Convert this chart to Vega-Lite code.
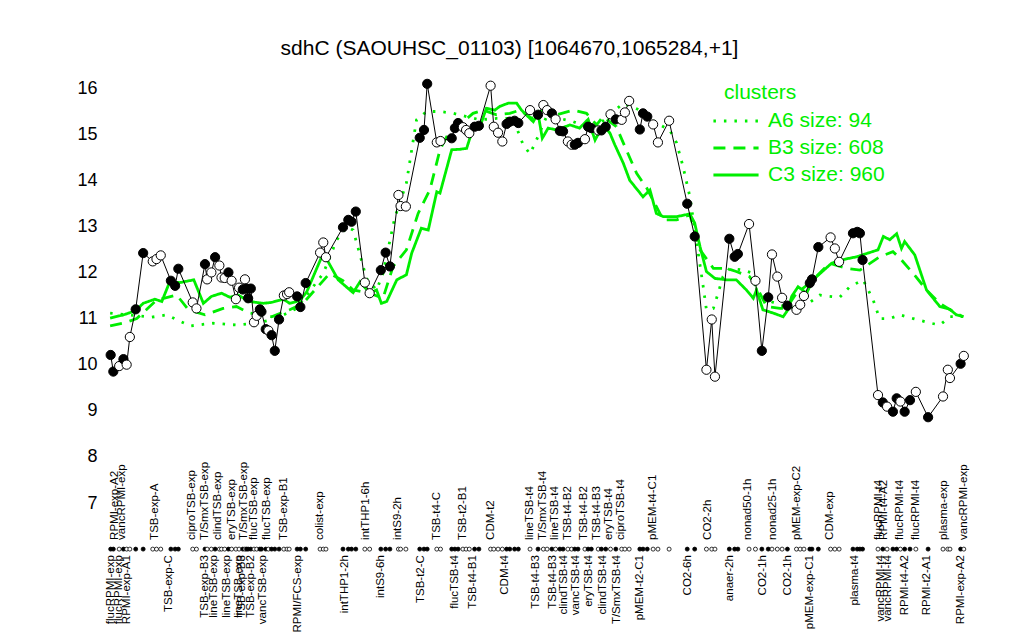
{
  "$schema": "https://vega.github.io/schema/vega-lite/v6.json",
  "width": 875,
  "height": 415,
  "autosize": {"type": "none"},
  "padding": {"left": 100, "top": 88, "right": 49, "bottom": 137},
  "background": "white",
  "title": {"text": "sdhC (SAOUHSC_01103) [1064670,1065284,+1]", "fontSize": 21, "fontWeight": "normal", "font": "Liberation Sans", "color": "black", "anchor": "middle", "frame": "group", "dx": -28, "offset": 18},
  "config": {"view": {"stroke": null}, "font": "Liberation Sans"},
  "datasets": {
    "pts": [
      {"r":1.0,"v":10.21,"t":"f"},{"r":1.5,"v":9.85,"t":"f"},{"r":2.6,"v":9.97,"t":"o"},{"r":3.4,"v":10.12,"t":"f"},{"r":4.0,"v":10.0,"t":"o"},{"r":4.6,"v":10.6,"t":"o"},{"r":5.7,"v":11.2,"t":"f"},{"r":7.1,"v":12.42,"t":"f"},{"r":8.9,"v":12.24,"t":"o"},{"r":9.6,"v":12.29,"t":"o"},{"r":10.4,"v":12.37,"t":"o"},{"r":12.3,"v":11.82,"t":"f"},{"r":13.1,"v":11.71,"t":"f"},{"r":13.7,"v":12.08,"t":"f"},{"r":16.4,"v":11.35,"t":"o"},{"r":17.1,"v":11.22,"t":"o"},{"r":18.7,"v":12.18,"t":"f"},{"r":19.1,"v":11.85,"t":"o"},{"r":19.9,"v":12.0,"t":"o"},{"r":20.6,"v":12.33,"t":"f"},{"r":21.4,"v":12.15,"t":"o"},{"r":21.8,"v":11.89,"t":"o"},{"r":22.4,"v":11.88,"t":"o"},{"r":23.1,"v":12.0,"t":"f"},{"r":23.7,"v":11.82,"t":"o"},{"r":24.5,"v":11.42,"t":"o"},{"r":25.1,"v":11.67,"t":"o"},{"r":25.8,"v":11.63,"t":"f"},{"r":26.2,"v":11.85,"t":"o"},{"r":26.5,"v":11.65,"t":"f"},{"r":26.8,"v":11.44,"t":"f"},{"r":27.3,"v":11.65,"t":"f"},{"r":27.9,"v":10.92,"t":"o"},{"r":28.4,"v":11.06,"t":"o"},{"r":29.0,"v":11.2,"t":"f"},{"r":29.3,"v":11.15,"t":"f"},{"r":30.1,"v":10.77,"t":"f"},{"r":30.6,"v":10.74,"t":"o"},{"r":31.2,"v":10.64,"t":"f"},{"r":31.8,"v":10.3,"t":"f"},{"r":32.6,"v":10.98,"t":"f"},{"r":33.5,"v":11.5,"t":"o"},{"r":34.1,"v":11.53,"t":"o"},{"r":34.5,"v":11.57,"t":"o"},{"r":36.0,"v":11.48,"t":"f"},{"r":36.6,"v":11.25,"t":"f"},{"r":37.6,"v":11.77,"t":"f"},{"r":40.3,"v":12.43,"t":"o"},{"r":40.9,"v":12.65,"t":"o"},{"r":41.4,"v":12.33,"t":"o"},{"r":44.6,"v":12.98,"t":"f"},{"r":45.6,"v":13.14,"t":"f"},{"r":46.2,"v":13.1,"t":"f"},{"r":47.0,"v":13.32,"t":"f"},{"r":48.7,"v":11.78,"t":"o"},{"r":49.6,"v":11.55,"t":"o"},{"r":51.7,"v":12.05,"t":"f"},{"r":52.6,"v":12.43,"t":"f"},{"r":53.4,"v":12.13,"t":"f"},{"r":55.0,"v":13.68,"t":"o"},{"r":55.4,"v":13.44,"t":"o"},{"r":56.4,"v":13.43,"t":"o"},{"r":59.0,"v":14.92,"t":"f"},{"r":59.8,"v":15.09,"t":"f"},{"r":60.4,"v":16.09,"t":"f"},{"r":62.2,"v":14.82,"t":"o"},{"r":62.9,"v":14.85,"t":"o"},{"r":65.0,"v":14.91,"t":"f"},{"r":65.6,"v":15.13,"t":"f"},{"r":66.2,"v":15.24,"t":"f"},{"r":67.1,"v":15.15,"t":"o"},{"r":67.7,"v":15.09,"t":"o"},{"r":68.3,"v":15.02,"t":"o"},{"r":69.3,"v":15.16,"t":"f"},{"r":70.1,"v":15.18,"t":"f"},{"r":72.3,"v":16.05,"t":"o"},{"r":72.9,"v":15.16,"t":"o"},{"r":73.7,"v":15.03,"t":"o"},{"r":74.5,"v":14.84,"t":"o"},{"r":75.3,"v":15.22,"t":"f"},{"r":75.9,"v":15.27,"t":"f"},{"r":76.8,"v":15.29,"t":"f"},{"r":77.5,"v":15.24,"t":"f"},{"r":79.7,"v":15.52,"t":"o"},{"r":81.2,"v":15.42,"t":"f"},{"r":82.2,"v":15.63,"t":"o"},{"r":82.9,"v":15.52,"t":"o"},{"r":83.8,"v":15.45,"t":"f"},{"r":84.5,"v":15.32,"t":"o"},{"r":85.3,"v":15.07,"t":"f"},{"r":85.9,"v":15.06,"t":"f"},{"r":86.8,"v":14.84,"t":"o"},{"r":87.5,"v":14.77,"t":"o"},{"r":88.1,"v":14.77,"t":"f"},{"r":88.7,"v":14.81,"t":"f"},{"r":90.0,"v":14.89,"t":"o"},{"r":90.6,"v":15.16,"t":"f"},{"r":91.2,"v":15.13,"t":"f"},{"r":92.5,"v":15.08,"t":"o"},{"r":93.1,"v":15.08,"t":"f"},{"r":93.9,"v":15.16,"t":"f"},{"r":94.8,"v":15.43,"t":"o"},{"r":95.8,"v":15.32,"t":"f"},{"r":96.9,"v":15.31,"t":"o"},{"r":97.5,"v":15.47,"t":"o"},{"r":98.3,"v":15.72,"t":"o"},{"r":100.3,"v":15.1,"t":"f"},{"r":100.9,"v":15.45,"t":"f"},{"r":101.7,"v":15.38,"t":"f"},{"r":102.8,"v":15.21,"t":"o"},{"r":103.7,"v":14.82,"t":"o"},{"r":105.8,"v":15.29,"t":"o"},{"r":109.2,"v":13.49,"t":"f"},{"r":110.6,"v":12.78,"t":"f"},{"r":112.8,"v":9.89,"t":"o"},{"r":113.8,"v":10.98,"t":"o"},{"r":114.4,"v":9.74,"t":"o"},{"r":117.1,"v":12.73,"t":"f"},{"r":118.1,"v":12.34,"t":"f"},{"r":118.7,"v":12.4,"t":"f"},{"r":120.8,"v":13.05,"t":"o"},{"r":122.0,"v":11.82,"t":"o"},{"r":123.2,"v":10.3,"t":"f"},{"r":124.4,"v":11.46,"t":"f"},{"r":125.1,"v":12.39,"t":"o"},{"r":126.1,"v":11.91,"t":"o"},{"r":127.0,"v":11.45,"t":"o"},{"r":128.0,"v":11.28,"t":"f"},{"r":129.7,"v":11.19,"t":"o"},{"r":130.4,"v":11.3,"t":"o"},{"r":131.1,"v":11.49,"t":"o"},{"r":132.2,"v":11.77,"t":"f"},{"r":132.6,"v":11.85,"t":"f"},{"r":133.8,"v":12.55,"t":"f"},{"r":136.1,"v":12.76,"t":"o"},{"r":136.9,"v":12.52,"t":"o"},{"r":137.7,"v":12.23,"t":"o"},{"r":140.3,"v":12.85,"t":"f"},{"r":141.1,"v":12.88,"t":"f"},{"r":141.6,"v":12.85,"t":"f"},{"r":142.1,"v":12.27,"t":"f"},{"r":145.0,"v":9.34,"t":"o"},{"r":145.9,"v":9.18,"t":"f"},{"r":146.7,"v":9.09,"t":"o"},{"r":147.8,"v":8.98,"t":"f"},{"r":148.5,"v":9.27,"t":"f"},{"r":149.2,"v":9.2,"t":"o"},{"r":150.0,"v":8.98,"t":"f"},{"r":151.0,"v":9.23,"t":"f"},{"r":152.1,"v":9.41,"t":"o"},{"r":154.4,"v":8.86,"t":"f"},{"r":157.2,"v":9.31,"t":"o"},{"r":158.1,"v":9.89,"t":"o"},{"r":158.5,"v":9.71,"t":"o"},{"r":160.5,"v":10.02,"t":"f"},{"r":161.1,"v":10.19,"t":"o"}
    ],
    "clus": [
      {"c":"C3 size: 960","r":0.9,"v":11.01},{"c":"C3 size: 960","r":3.4,"v":11.08},{"c":"C3 size: 960","r":5.7,"v":11.17},{"c":"C3 size: 960","r":7.1,"v":11.33},{"c":"C3 size: 960","r":9.3,"v":11.42},{"c":"C3 size: 960","r":10.6,"v":11.37},{"c":"C3 size: 960","r":12.1,"v":11.8},{"c":"C3 size: 960","r":14.0,"v":11.78},{"c":"C3 size: 960","r":16.6,"v":11.84},{"c":"C3 size: 960","r":18.4,"v":11.33},{"c":"C3 size: 960","r":19.9,"v":11.48},{"c":"C3 size: 960","r":21.8,"v":11.55},{"c":"C3 size: 960","r":23.4,"v":11.46},{"c":"C3 size: 960","r":24.9,"v":11.51},{"c":"C3 size: 960","r":27.1,"v":11.37},{"c":"C3 size: 960","r":29.6,"v":11.33},{"c":"C3 size: 960","r":31.2,"v":11.35},{"c":"C3 size: 960","r":33.4,"v":11.42},{"c":"C3 size: 960","r":34.6,"v":11.33},{"c":"C3 size: 960","r":36.5,"v":11.39},{"c":"C3 size: 960","r":37.8,"v":11.58},{"c":"C3 size: 960","r":40.9,"v":12.42},{"c":"C3 size: 960","r":43.7,"v":11.84},{"c":"C3 size: 960","r":45.9,"v":11.62},{"c":"C3 size: 960","r":46.5,"v":11.56},{"c":"C3 size: 960","r":47.8,"v":11.8},{"c":"C3 size: 960","r":49.6,"v":11.55},{"c":"C3 size: 960","r":50.9,"v":11.62},{"c":"C3 size: 960","r":51.8,"v":11.33},{"c":"C3 size: 960","r":52.8,"v":11.37},{"c":"C3 size: 960","r":54.7,"v":11.84},{"c":"C3 size: 960","r":56.5,"v":11.95},{"c":"C3 size: 960","r":57.5,"v":12.42},{"c":"C3 size: 960","r":59.3,"v":12.96},{"c":"C3 size: 960","r":60.6,"v":12.92},{"c":"C3 size: 960","r":62.2,"v":13.75},{"c":"C3 size: 960","r":62.8,"v":13.72},{"c":"C3 size: 960","r":65.0,"v":14.66},{"c":"C3 size: 960","r":66.5,"v":14.67},{"c":"C3 size: 960","r":67.8,"v":14.69},{"c":"C3 size: 960","r":69.0,"v":15.13},{"c":"C3 size: 960","r":70.3,"v":15.16},{"c":"C3 size: 960","r":71.5,"v":15.56},{"c":"C3 size: 960","r":73.1,"v":15.52},{"c":"C3 size: 960","r":74.0,"v":15.6},{"c":"C3 size: 960","r":75.6,"v":15.67},{"c":"C3 size: 960","r":77.2,"v":15.67},{"c":"C3 size: 960","r":78.1,"v":15.52},{"c":"C3 size: 960","r":80.3,"v":15.27},{"c":"C3 size: 960","r":81.2,"v":15.45},{"c":"C3 size: 960","r":82.0,"v":14.91},{"c":"C3 size: 960","r":83.1,"v":15.13},{"c":"C3 size: 960","r":84.7,"v":15.09},{"c":"C3 size: 960","r":87.2,"v":15.2},{"c":"C3 size: 960","r":89.0,"v":15.13},{"c":"C3 size: 960","r":90.6,"v":15.32},{"c":"C3 size: 960","r":91.9,"v":14.87},{"c":"C3 size: 960","r":93.4,"v":15.2},{"c":"C3 size: 960","r":94.7,"v":15.02},{"c":"C3 size: 960","r":95.6,"v":14.77},{"c":"C3 size: 960","r":97.2,"v":14.37},{"c":"C3 size: 960","r":98.4,"v":14.0},{"c":"C3 size: 960","r":100.9,"v":13.64},{"c":"C3 size: 960","r":102.2,"v":13.79},{"c":"C3 size: 960","r":103.4,"v":13.28},{"c":"C3 size: 960","r":104.7,"v":13.21},{"c":"C3 size: 960","r":107.2,"v":13.21},{"c":"C3 size: 960","r":109.7,"v":13.27},{"c":"C3 size: 960","r":110.6,"v":13.07},{"c":"C3 size: 960","r":111.6,"v":12.56},{"c":"C3 size: 960","r":112.8,"v":12.02},{"c":"C3 size: 960","r":114.4,"v":11.87},{"c":"C3 size: 960","r":116.6,"v":11.84},{"c":"C3 size: 960","r":118.4,"v":11.84},{"c":"C3 size: 960","r":120.3,"v":11.62},{"c":"C3 size: 960","r":121.6,"v":11.44},{"c":"C3 size: 960","r":122.2,"v":11.62},{"c":"C3 size: 960","r":123.4,"v":11.19},{"c":"C3 size: 960","r":125.3,"v":11.12},{"c":"C3 size: 960","r":127.2,"v":11.04},{"c":"C3 size: 960","r":128.1,"v":11.19},{"c":"C3 size: 960","r":128.8,"v":11.48},{"c":"C3 size: 960","r":130.0,"v":11.69},{"c":"C3 size: 960","r":131.6,"v":11.55},{"c":"C3 size: 960","r":132.8,"v":11.84},{"c":"C3 size: 960","r":136.3,"v":12.2},{"c":"C3 size: 960","r":138.1,"v":12.27},{"c":"C3 size: 960","r":141.0,"v":12.34},{"c":"C3 size: 960","r":145.0,"v":12.49},{"c":"C3 size: 960","r":146.0,"v":12.78},{"c":"C3 size: 960","r":147.2,"v":12.71},{"c":"C3 size: 960","r":148.5,"v":12.84},{"c":"C3 size: 960","r":149.4,"v":12.52},{"c":"C3 size: 960","r":150.0,"v":12.67},{"c":"C3 size: 960","r":151.9,"v":12.38},{"c":"C3 size: 960","r":154.1,"v":11.62},{"c":"C3 size: 960","r":156.6,"v":11.26},{"c":"C3 size: 960","r":158.5,"v":11.2},{"c":"C3 size: 960","r":159.7,"v":11.08},{"c":"C3 size: 960","r":161.0,"v":11.04},
      {"c":"B3 size: 608","r":0.9,"v":10.84},{"c":"B3 size: 608","r":3.4,"v":10.9},{"c":"B3 size: 608","r":5.9,"v":11.0},{"c":"B3 size: 608","r":9.6,"v":11.4},{"c":"B3 size: 608","r":13.4,"v":11.51},{"c":"B3 size: 608","r":15.6,"v":11.19},{"c":"B3 size: 608","r":18.7,"v":11.08},{"c":"B3 size: 608","r":22.1,"v":11.22},{"c":"B3 size: 608","r":24.6,"v":11.26},{"c":"B3 size: 608","r":27.1,"v":11.12},{"c":"B3 size: 608","r":31.2,"v":11.04},{"c":"B3 size: 608","r":34.6,"v":11.19},{"c":"B3 size: 608","r":37.1,"v":11.33},{"c":"B3 size: 608","r":42.1,"v":11.98},{"c":"B3 size: 608","r":44.6,"v":11.82},{"c":"B3 size: 608","r":46.5,"v":11.62},{"c":"B3 size: 608","r":49.6,"v":11.55},{"c":"B3 size: 608","r":52.1,"v":11.44},{"c":"B3 size: 608","r":54.0,"v":12.13},{"c":"B3 size: 608","r":56.5,"v":12.49},{"c":"B3 size: 608","r":58.7,"v":13.28},{"c":"B3 size: 608","r":60.9,"v":13.79},{"c":"B3 size: 608","r":62.8,"v":14.66},{"c":"B3 size: 608","r":64.7,"v":15.09},{"c":"B3 size: 608","r":66.5,"v":15.2},{"c":"B3 size: 608","r":69.0,"v":15.45},{"c":"B3 size: 608","r":70.9,"v":15.52},{"c":"B3 size: 608","r":73.4,"v":15.42},{"c":"B3 size: 608","r":75.9,"v":15.45},{"c":"B3 size: 608","r":77.8,"v":15.52},{"c":"B3 size: 608","r":80.0,"v":15.34},{"c":"B3 size: 608","r":82.2,"v":15.52},{"c":"B3 size: 608","r":84.7,"v":15.42},{"c":"B3 size: 608","r":87.8,"v":15.52},{"c":"B3 size: 608","r":90.3,"v":15.45},{"c":"B3 size: 608","r":92.2,"v":15.2},{"c":"B3 size: 608","r":93.4,"v":15.38},{"c":"B3 size: 608","r":95.9,"v":15.16},{"c":"B3 size: 608","r":97.2,"v":14.81},{"c":"B3 size: 608","r":99.7,"v":14.15},{"c":"B3 size: 608","r":101.6,"v":13.83},{"c":"B3 size: 608","r":104.7,"v":13.14},{"c":"B3 size: 608","r":107.2,"v":13.14},{"c":"B3 size: 608","r":109.7,"v":13.25},{"c":"B3 size: 608","r":111.6,"v":12.49},{"c":"B3 size: 608","r":114.1,"v":12.09},{"c":"B3 size: 608","r":116.6,"v":12.09},{"c":"B3 size: 608","r":118.4,"v":12.02},{"c":"B3 size: 608","r":120.9,"v":11.91},{"c":"B3 size: 608","r":122.2,"v":11.69},{"c":"B3 size: 608","r":124.1,"v":11.26},{"c":"B3 size: 608","r":126.6,"v":11.22},{"c":"B3 size: 608","r":127.8,"v":11.22},{"c":"B3 size: 608","r":129.7,"v":11.55},{"c":"B3 size: 608","r":132.2,"v":11.77},{"c":"B3 size: 608","r":135.9,"v":12.2},{"c":"B3 size: 608","r":139.1,"v":12.09},{"c":"B3 size: 608","r":141.6,"v":12.05},{"c":"B3 size: 608","r":145.3,"v":12.34},{"c":"B3 size: 608","r":147.8,"v":12.45},{"c":"B3 size: 608","r":149.1,"v":12.31},{"c":"B3 size: 608","r":151.6,"v":11.98},{"c":"B3 size: 608","r":154.1,"v":11.62},{"c":"B3 size: 608","r":156.6,"v":11.33},{"c":"B3 size: 608","r":159.1,"v":11.15},{"c":"B3 size: 608","r":161.0,"v":11.04},
      {"c":"A6 size: 94","r":0.9,"v":11.12},{"c":"A6 size: 94","r":8.7,"v":11.03},{"c":"A6 size: 94","r":11.5,"v":11.08},{"c":"A6 size: 94","r":15.9,"v":10.84},{"c":"A6 size: 94","r":20.2,"v":10.9},{"c":"A6 size: 94","r":24.6,"v":10.86},{"c":"A6 size: 94","r":28.4,"v":10.9},{"c":"A6 size: 94","r":32.1,"v":11.0},{"c":"A6 size: 94","r":35.9,"v":11.22},{"c":"A6 size: 94","r":40.9,"v":11.98},{"c":"A6 size: 94","r":43.4,"v":12.7},{"c":"A6 size: 94","r":45.3,"v":12.99},{"c":"A6 size: 94","r":46.5,"v":12.92},{"c":"A6 size: 94","r":49.0,"v":11.87},{"c":"A6 size: 94","r":50.9,"v":11.62},{"c":"A6 size: 94","r":52.1,"v":11.98},{"c":"A6 size: 94","r":54.3,"v":13.18},{"c":"A6 size: 94","r":56.5,"v":13.94},{"c":"A6 size: 94","r":58.4,"v":15.31},{"c":"A6 size: 94","r":60.3,"v":15.49},{"c":"A6 size: 94","r":62.8,"v":15.49},{"c":"A6 size: 94","r":65.3,"v":15.45},{"c":"A6 size: 94","r":67.8,"v":15.38},{"c":"A6 size: 94","r":70.3,"v":15.31},{"c":"A6 size: 94","r":73.4,"v":15.34},{"c":"A6 size: 94","r":76.5,"v":15.34},{"c":"A6 size: 94","r":78.4,"v":14.77},{"c":"A6 size: 94","r":79.7,"v":14.57},{"c":"A6 size: 94","r":80.9,"v":14.87},{"c":"A6 size: 94","r":82.8,"v":15.38},{"c":"A6 size: 94","r":85.3,"v":15.34},{"c":"A6 size: 94","r":87.8,"v":15.27},{"c":"A6 size: 94","r":90.3,"v":15.16},{"c":"A6 size: 94","r":92.2,"v":15.16},{"c":"A6 size: 94","r":94.7,"v":15.42},{"c":"A6 size: 94","r":97.2,"v":15.67},{"c":"A6 size: 94","r":100.3,"v":15.52},{"c":"A6 size: 94","r":103.4,"v":15.24},{"c":"A6 size: 94","r":105.9,"v":15.09},{"c":"A6 size: 94","r":107.2,"v":14.81},{"c":"A6 size: 94","r":108.4,"v":14.3},{"c":"A6 size: 94","r":109.7,"v":13.64},{"c":"A6 size: 94","r":110.9,"v":12.7},{"c":"A6 size: 94","r":112.2,"v":11.69},{"c":"A6 size: 94","r":112.8,"v":11.19},{"c":"A6 size: 94","r":114.1,"v":11.22},{"c":"A6 size: 94","r":115.0,"v":11.55},{"c":"A6 size: 94","r":115.9,"v":11.91},{"c":"A6 size: 94","r":117.2,"v":12.09},{"c":"A6 size: 94","r":119.7,"v":12.05},{"c":"A6 size: 94","r":121.6,"v":11.98},{"c":"A6 size: 94","r":122.2,"v":11.62},{"c":"A6 size: 94","r":124.1,"v":11.4},{"c":"A6 size: 94","r":126.6,"v":11.3},{"c":"A6 size: 94","r":128.4,"v":11.22},{"c":"A6 size: 94","r":131.6,"v":11.3},{"c":"A6 size: 94","r":134.1,"v":11.51},{"c":"A6 size: 94","r":135.9,"v":11.48},{"c":"A6 size: 94","r":137.8,"v":11.46},{"c":"A6 size: 94","r":139.7,"v":11.69},{"c":"A6 size: 94","r":142.2,"v":11.84},{"c":"A6 size: 94","r":144.1,"v":11.4},{"c":"A6 size: 94","r":145.3,"v":11.0},{"c":"A6 size: 94","r":147.2,"v":11.0},{"c":"A6 size: 94","r":149.1,"v":11.08},{"c":"A6 size: 94","r":151.6,"v":11.0},{"c":"A6 size: 94","r":154.9,"v":10.9},{"c":"A6 size: 94","r":156.6,"v":10.86},{"c":"A6 size: 94","r":158.5,"v":11.04},{"c":"A6 size: 94","r":161.0,"v":11.04}
    ],
    "labs": [
      {"r":1.8,"s":"RPMI-exp-A2","p":"top"},{"r":3.1,"s":"vancRPMI-exp","p":"top"},{"r":9.3,"s":"TSB-exp-A","p":"top"},{"r":16.2,"s":"ciproTSB-exp","p":"top"},{"r":18.7,"s":"T/SmxTSB-exp","p":"top"},{"r":21.1,"s":"clindTSB-exp","p":"top"},{"r":23.8,"s":"eryTSB-exp","p":"top"},{"r":26.0,"s":"T/SmxTSB-exp","p":"top"},{"r":27.9,"s":"flucTSB-exp","p":"top"},{"r":30.3,"s":"flucTSB-exp","p":"top"},{"r":33.5,"s":"TSB-exp-B1","p":"top"},{"r":40.3,"s":"colist-exp","p":"top"},{"r":48.9,"s":"intTHP1-6h","p":"top"},{"r":54.9,"s":"intS9-2h","p":"top"},{"r":62.2,"s":"TSB-t4-C","p":"top"},{"r":67.1,"s":"TSB-t2-B1","p":"top"},{"r":72.4,"s":"CDM-t2","p":"top"},{"r":79.7,"s":"lineTSB-t4","p":"top"},{"r":82.1,"s":"T/SmxTSB-t4","p":"top"},{"r":84.4,"s":"lineTSB-t4","p":"top"},{"r":86.8,"s":"TSB-t4-B2","p":"top"},{"r":89.8,"s":"TSB-t4-B2","p":"top"},{"r":92.2,"s":"TSB-t4-B3","p":"top"},{"r":94.5,"s":"eryTSB-t4","p":"top"},{"r":96.7,"s":"ciproTSB-t4","p":"top"},{"r":102.7,"s":"pMEM-t4-C1","p":"top"},{"r":113.1,"s":"CO2-2h","p":"top"},{"r":120.6,"s":"nonad50-1h","p":"top"},{"r":125.3,"s":"nonad25-1h","p":"top"},{"r":129.8,"s":"pMEM-exp-C2","p":"top"},{"r":136.0,"s":"CDM-exp","p":"top"},{"r":145.2,"s":"flucRPMI-t4","p":"top"},{"r":146.1,"s":"RPMI-t4-A2","p":"top"},{"r":149.1,"s":"flucRPMI-t4","p":"top"},{"r":152.1,"s":"flucRPMI-t4","p":"top"},{"r":157.3,"s":"plasma-exp","p":"top"},{"r":161.1,"s":"vancRPMI-exp","p":"top"},
      {"r":1.0,"s":"flucRPMI-exp","p":"bottom"},{"r":2.6,"s":"flucRPMI-exp","p":"bottom"},{"r":4.1,"s":"RPMI-exp-A1","p":"bottom"},{"r":12.0,"s":"TSB-exp-C","p":"bottom"},{"r":18.7,"s":"TSB-exp-B3","p":"bottom"},{"r":20.4,"s":"lineTSB-exp","p":"bottom"},{"r":22.8,"s":"lineTSB-exp","p":"bottom"},{"r":25.1,"s":"lineTSB-exp","p":"bottom"},{"r":25.6,"s":"TSB-exp-B3","p":"bottom"},{"r":27.3,"s":"TSB-exp-B2","p":"bottom"},{"r":29.6,"s":"vancTSB-exp","p":"bottom"},{"r":36.2,"s":"RPMI/FCS-exp","p":"bottom"},{"r":45.0,"s":"intTHP1-2h","p":"bottom"},{"r":51.8,"s":"intS9-6h","p":"bottom"},{"r":59.3,"s":"TSB-t2-C","p":"bottom"},{"r":65.6,"s":"flucTSB-t4","p":"bottom"},{"r":69.0,"s":"TSB-t4-B1","p":"bottom"},{"r":75.0,"s":"CDM-t4","p":"bottom"},{"r":80.9,"s":"TSB-t4-B3","p":"bottom"},{"r":84.0,"s":"TSB-t4-B3","p":"bottom"},{"r":86.0,"s":"clindTSB-t4","p":"bottom"},{"r":88.4,"s":"vancTSB-t4","p":"bottom"},{"r":90.8,"s":"eryTSB-t4","p":"bottom"},{"r":93.4,"s":"clindTSB-t4","p":"bottom"},{"r":96.0,"s":"T/SmxTSB-t4","p":"bottom"},{"r":100.3,"s":"pMEM-t2-C1","p":"bottom"},{"r":109.4,"s":"CO2-6h","p":"bottom"},{"r":117.2,"s":"anaer-2h","p":"bottom"},{"r":123.4,"s":"CO2-1h","p":"bottom"},{"r":128.1,"s":"CO2-1h","p":"bottom"},{"r":132.3,"s":"pMEM-exp-C1","p":"bottom"},{"r":140.6,"s":"plasma-t4","p":"bottom"},{"r":145.5,"s":"vancRPMI-t4","p":"bottom"},{"r":146.8,"s":"vancRPMI-t4","p":"bottom"},{"r":150.0,"s":"RPMI-t4-A2","p":"bottom"},{"r":154.1,"s":"RPMI-t2-A1","p":"bottom"},{"r":160.5,"s":"RPMI-exp-A2","p":"bottom"}
    ]
  },
  "layer": [
    {
      "data": {"name": "clus"},
      "mark": {"type": "line", "color": "#00EE00", "strokeWidth": 2.8, "clip": false},
      "encoding": {
        "x": {"field": "r", "type": "quantitative", "scale": {"domain": [-1, 163.2], "nice": false, "zero": false}, "axis": null},
        "y": {"field": "v", "type": "quantitative", "scale": {"domain": [7, 16], "nice": false, "zero": false},
              "axis": {"values": [7,8,9,10,11,12,13,14,15,16], "title": null, "grid": false, "domain": false, "ticks": false, "labelFontSize": 18, "labelColor": "black", "labelFont": "Liberation Sans", "labelPadding": 3, "offset": 0}},
        "detail": {"field": "c"},
        "strokeDash": {"field": "c", "type": "nominal",
          "scale": {"domain": ["A6 size: 94", "B3 size: 608", "C3 size: 960"], "range": [[2.5, 8], [12, 8], [1, 0]]},
          "legend": {"title": "clusters", "orient": "none", "legendX": 624, "legendY": -6, "titleColor": "#00EE00", "titleFontSize": 21, "titleFontWeight": "normal", "titleFont": "Liberation Sans", "titlePadding": 6, "labelColor": "#00EE00", "labelFontSize": 21, "labelFont": "Liberation Sans", "symbolType": "M-2.15,0H2.15", "symbolSize": 441, "symbolFillColor": "transparent", "symbolStrokeColor": "#00EE00", "symbolStrokeWidth": 2.8, "labelOffset": 20, "rowPadding": 5}}
      }
    },
    {
      "data": {"name": "pts"},
      "mark": {"type": "line", "color": "black", "strokeWidth": 1, "clip": false},
      "encoding": {
        "x": {"field": "r", "type": "quantitative"},
        "y": {"field": "v", "type": "quantitative"}
      }
    },
    {
      "data": {"name": "pts"},
      "mark": {"type": "point", "shape": "circle", "size": 85, "stroke": "black", "strokeWidth": 1, "opacity": 1, "filled": false, "clip": false},
      "encoding": {
        "x": {"field": "r", "type": "quantitative"},
        "y": {"field": "v", "type": "quantitative"},
        "fill": {"field": "t", "type": "nominal", "scale": {"domain": ["f", "o"], "range": ["black", "white"]}, "legend": null}
      }
    },
    {
      "data": {"name": "pts"},
      "mark": {"type": "point", "shape": "circle", "size": 16, "stroke": "black", "strokeWidth": 0.8, "opacity": 1, "filled": false, "clip": false},
      "encoding": {
        "x": {"field": "r", "type": "quantitative"},
        "y": {"datum": 6.0, "type": "quantitative"},
        "fill": {"field": "t", "type": "nominal", "scale": {"domain": ["f", "o"], "range": ["black", "white"]}, "legend": null}
      }
    },
    {
      "data": {"name": "labs"},
      "transform": [{"filter": "datum.p === 'top'"}],
      "mark": {"type": "text", "angle": 270, "align": "left", "baseline": "middle", "fontSize": 11.5, "font": "Liberation Sans", "color": "black", "clip": false},
      "encoding": {
        "x": {"field": "r", "type": "quantitative"},
        "y": {"datum": 6.2, "type": "quantitative"},
        "text": {"field": "s"}
      }
    },
    {
      "data": {"name": "labs"},
      "transform": [{"filter": "datum.p === 'bottom'"}],
      "mark": {"type": "text", "angle": 270, "align": "right", "baseline": "middle", "fontSize": 11.5, "font": "Liberation Sans", "color": "black", "clip": false},
      "encoding": {
        "x": {"field": "r", "type": "quantitative"},
        "y": {"datum": 5.87, "type": "quantitative"},
        "text": {"field": "s"}
      }
    }
  ]
}
